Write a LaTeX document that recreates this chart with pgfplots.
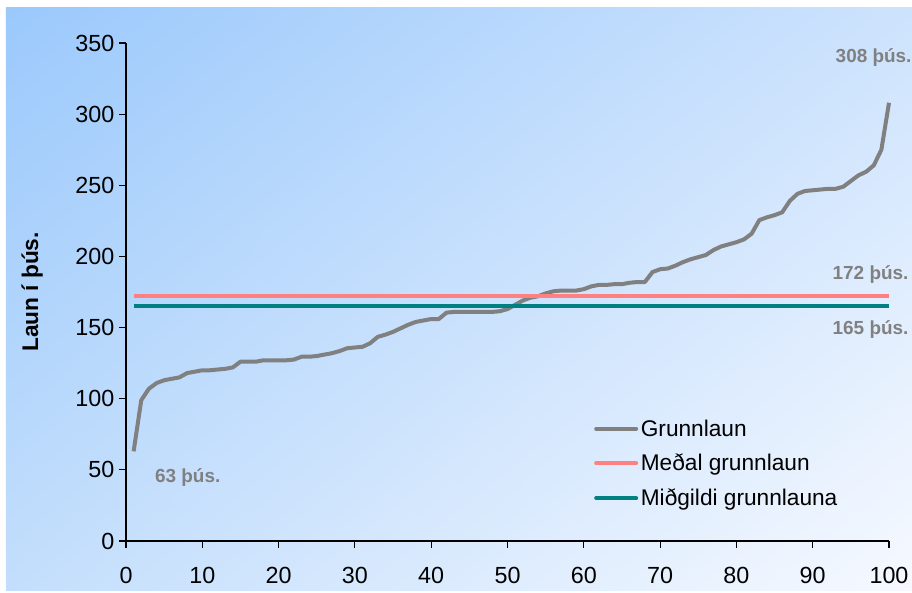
\documentclass[border=0pt]{standalone}
\usepackage{pgfplots}
\pgfplotsset{compat=1.18}
\usetikzlibrary{shadings}
\usepackage{fontspec}
\setmainfont{Liberation Sans}

\definecolor{linegray}{RGB}{128,128,128}
\definecolor{salmon}{RGB}{255,128,128}
\definecolor{tealline}{RGB}{0,128,128}
\definecolor{bgUL}{RGB}{155,201,252}
\definecolor{bgUR}{RGB}{205,227,253}
\definecolor{bgLL}{RGB}{195,222,252}
\definecolor{bgLR}{RGB}{246,249,255}

\begin{document}
\begin{tikzpicture}
% page = 912x592 px (1px = 0.75pt), axis corner at px (126,541)
\path[use as bounding box] (-94.5pt,-38.25pt) rectangle (589.5pt,405.75pt);
\begin{scope}[shift={(-94.5pt,405.75pt)}, x=0.75pt, y=-0.75pt]
  \fill[white] (0,0) rectangle (912,592);
  \shade[upper left=bgUL, upper right=bgUR, lower left=bgLL, lower right=bgLR]
    (6,8) rectangle (912,590);
\end{scope}

\begin{axis}[
    at={(0,0)}, anchor=south west,
    scale only axis,
    width=572.25pt, height=373.5pt,
    xmin=0, xmax=100,
    ymin=0, ymax=350,
    xtick={0,10,...,100},
    ytick={0,50,...,350},
    axis x line=bottom, axis y line=left,
    axis line style={-, black, line width=0.8pt},
    tick align=outside,
    major tick length=5.25pt,
    tick style={black, line width=0.8pt},
    tick label style={font=\fontsize{17.5}{20}\selectfont},
    xticklabel style={yshift=-11pt},
    /pgf/number format/assume math mode=true,
    ylabel={Laun í þús.},
    ylabel style={font=\bfseries\fontsize{17}{20}\selectfont,
        at={(axis description cs:-0.123,0.5)}, anchor=center},
    clip=false,
    legend cell align=left,
    legend style={draw=none, fill=none,
        font=\fontsize{17}{20}\selectfont,
        at={(axis description cs:0.608,0.255)}, anchor=north west,
        row sep=8pt},
    legend image code/.code={\draw[#1, line cap=round] (0pt,0pt) -- (30pt,0pt);},
]

\addplot[color=linegray, line width=3pt, line join=round] coordinates {
(1,63)(2,99)(3,107)(4,111)(5,113)(6,114)(7,115)(8,118)(9,119)(10,120)
(11,120)(12,120.5)(13,121)(14,122)(15,126)(16,126)(17,126)(18,127)(19,127)(20,127)
(21,127)(22,127.5)(23,129.5)(24,129.5)(25,130)(26,131)(27,132)(28,133.5)(29,135.5)(30,136)
(31,136.5)(32,139)(33,143.5)(34,145)(35,147)(36,149.5)(37,152)(38,154)(39,155)(40,156)
(41,156)(42,160.5)(43,161)(44,161)(45,161)(46,161)(47,161)(48,161)(49,161.5)(50,163)
(51,166)(52,169)(53,171)(54,172)(55,174)(56,175.5)(57,176)(58,176)(59,176)(60,177)
(61,179)(62,180)(63,180)(64,180.5)(65,180.5)(66,181.5)(67,182)(68,182)(69,189)(70,191)
(71,191.5)(72,193.5)(73,196)(74,198)(75,199.5)(76,201)(77,204.5)(78,207)(79,208.5)(80,210)
(81,212)(82,216)(83,225.5)(84,227.5)(85,229)(86,231)(87,239)(88,244)(89,246)(90,246.5)
(91,247)(92,247.5)(93,247.5)(94,249)(95,253)(96,257)(97,259.5)(98,264)(99,275)(100,308)
};
\addlegendentry{Grunnlaun}

\addplot[color=salmon, line width=3pt] coordinates {(1,172)(100,172)};
\addlegendentry{Meðal grunnlaun}

\addplot[color=tealline, line width=3pt] coordinates {(1,165)(100,165)};
\addlegendentry{Miðgildi grunnlauna}

\node[anchor=west, text=linegray, font=\bfseries\fontsize{14.2}{17}\selectfont]
  at (axis cs:92.4,339.5) {308 þús.};
\node[anchor=west, text=linegray, font=\bfseries\fontsize{14.2}{17}\selectfont]
  at (axis cs:92.0,187) {172 þús.};
\node[anchor=west, text=linegray, font=\bfseries\fontsize{14.2}{17}\selectfont]
  at (axis cs:92.0,148.3) {165 þús.};
\node[anchor=west, text=linegray, font=\bfseries\fontsize{14.2}{17}\selectfont]
  at (axis cs:3.2,44.3) {63 þús.};
\end{axis}
\end{tikzpicture}
\end{document}
